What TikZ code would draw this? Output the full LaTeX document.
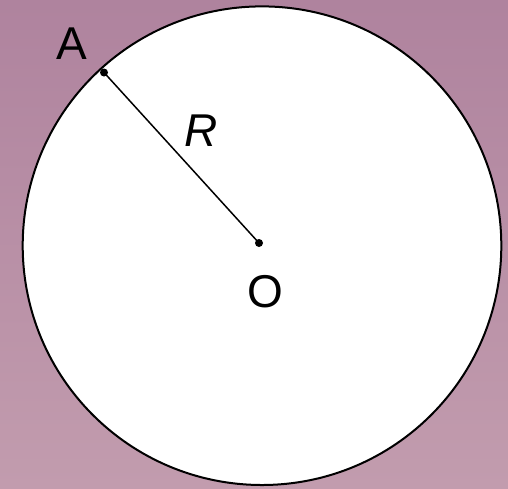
\documentclass[tikz,border=0pt]{standalone}
\usepackage{fontspec}
\setmainfont{Liberation Sans}
\definecolor{bgtop}{RGB}{175,131,158}
\definecolor{bgbot}{RGB}{194,156,174}
\begin{document}
\begin{tikzpicture}[x=1pt,y=-1pt,
  lbl/.style={inner sep=0pt,anchor=center,font=\fontsize{46}{46}\selectfont},
  pt/.style={circle,fill=black,inner sep=0pt,minimum size=8pt}]
\useasboundingbox (0,0) rectangle (508,488);
\shade[top color=bgtop,bottom color=bgbot] (0,0) rectangle (508,488);
\coordinate (C) at (262,245.7);
\draw[line width=2pt,fill=white] (C) circle[radius=239.3pt];
\node[pt] (A) at (104,72.5) {};
\node[pt] (O) at (259,243) {};
\draw[line width=1.5pt] (A.center) -- (O.center);
\node[lbl] (la) at (71.5,44) {A};
\node[lbl] (lr) at (201,131) {\itshape R};
\node[lbl] (lo) at (265,291.5) {O};
\end{tikzpicture}
\end{document}
